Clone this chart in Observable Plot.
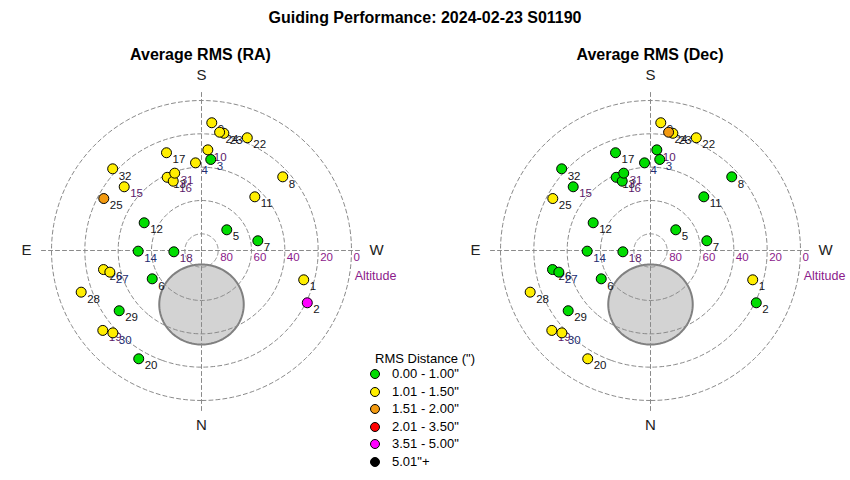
<!DOCTYPE html>
<html><head><meta charset="utf-8">
<script src="https://cdn.jsdelivr.net/npm/d3@7"></script>
<script src="https://cdn.jsdelivr.net/npm/@observablehq/plot@0.6"></script>
<style>
body{margin:0;background:#fff;font-family:"Liberation Sans",Arial,sans-serif;}
#page{position:relative;width:850px;height:480px;overflow:hidden;background:#fff;}
.abs{position:absolute;}
.txt{z-index:3;color:#000;white-space:nowrap;}
.title{font-weight:bold;font-size:16px;line-height:20px;text-align:center;}
.leg{font-size:13px;line-height:16px;}
.sw{position:absolute;width:8px;height:8px;border-radius:50%;border:1px solid #000;}
</style></head><body>
<div id="page">
  <div class="abs txt title" style="left:0;top:8px;width:850px;">Guiding Performance: 2024-02-23 S01190</div>
  <div class="abs txt title" style="left:0;top:45px;width:401px;">Average RMS (RA)</div>
  <div class="abs txt title" style="left:450px;top:45px;width:400px;">Average RMS (Dec)</div>
  <div id="p1" class="abs" style="left:1px;top:50px;"></div>
  <div id="p2" class="abs" style="left:450px;top:50px;"></div>
  <div id="legend" class="abs txt leg" style="left:360px;top:350px;width:130px;height:125px;"></div>
</div>
<script>
// ---- data ----
const ids      = [1, 2, 3, 4, 5, 6, 7, 8, 9, 10, 11, 12, 13, 14, 15, 16, 17, 18, 19, 20, 22, 23, 24, 25, 26, 27, 28, 29, 30, 31, 32];
const azimuth  = [286.0, 296.3, 185.8, 176.1, 230.7, 60.1, 260.2, 227.8, 184.6, 183.6, 224.8, 115.8, 154.9, 89.4, 129.5, 157.8, 160.3, 87.3, 51.0, 30.1, 202.1, 190.8, 188.7, 118.0, 79.0, 76.7, 70.9, 53.8, 47.1, 160.9, 132.6];
const altitude = [26.2, 19.2, 35.1, 37.3, 70.4, 55.9, 55.7, 24.2, 13.1, 29.5, 44.6, 51.8, 41.5, 52.0, 29.9, 45.1, 27.7, 73.4, 13.8, 14.9, 17.0, 18.4, 18.2, 23.6, 30.1, 33.5, 13.6, 28.8, 17.4, 40.9, 17.6];
// RMS distance class (index into binLabels)
const binRA    = [1, 4, 0, 1, 0, 0, 0, 1, 1, 1, 1, 0, 1, 0, 1, 1, 1, 0, 1, 0, 1, 1, 1, 2, 1, 1, 1, 0, 1, 1, 1];
const binDec   = [1, 0, 0, 0, 0, 0, 0, 0, 1, 0, 0, 0, 0, 0, 0, 0, 0, 0, 1, 1, 1, 1, 2, 1, 0, 0, 1, 0, 1, 0, 0];
const binLabels = ['0.00 - 1.00"', '1.01 - 1.50"', '1.51 - 2.00"', '2.01 - 3.50"', '3.51 - 5.00"', '5.01"+'];
const altRings  = [0, 20, 40, 60, 80];
const compass   = [{t: "S", az: 180}, {t: "N", az: 0}, {t: "E", az: 90}, {t: "W", az: 270}];
const excluded  = {az: 0, alt: 57.6, radius: 24};

// ---- styles ----
const binColors = ["#00dd00", "#ffee00", "#f39a10", "#ff0000", "#ff00ff", "#000000"];
const inkPurple = [10, 15, 16, 18, 19, 31];
const inkBlue   = [3, 4, 14, 27, 30];
const purple = "#8b1a8b";

function panel(bins) {
  const data = ids.map((id, i) => ({id, az: azimuth[i], alt: altitude[i], bin: binLabels[bins[i]]}));
  const lon = d => -d.az;
  const ink = d => inkPurple.includes(d.id) ? "#5a1a6a" : inkBlue.includes(d.id) ? "#222c70" : "#141420";
  const groups = d3.groups(data, ink);
  const dash = {stroke: "#8a8a8a", strokeDasharray: "4,3", strokeWidth: 1, fill: "none"};
  return Plot.plot({
    width: 400, height: 400, margin: 0,
    style: {background: "none", overflow: "visible", fontFamily: "Liberation Sans, Arial, sans-serif"},
    projection: {type: "azimuthal-equidistant", rotate: [0, -90], domain: d3.geoCircle().center([0, 90]).radius(120)()},
    color: {domain: binLabels, range: binColors},
    marks: [
      Plot.geo([d3.geoCircle().center([-excluded.az, excluded.alt]).radius(excluded.radius)()], {fill: "#d3d3d3", stroke: "#808080", strokeWidth: 2}),
      Plot.geo(altRings.map(a => d3.geoCircle().center([0, 90]).radius(90 - a)()), dash),
      Plot.geo([{type: "MultiLineString", coordinates: [
        [[-90, -6], [-90, 90]], [[90, 90], [90, -6]], [[0, -6], [0, 90]], [[180, 90], [180, -6]]]}], dash),
      Plot.text(altRings, {x: () => -270, y: a => a, text: a => String(a), dx: 2, dy: 7, textAnchor: "start", fill: purple, fontSize: 11.5}),
      Plot.text(["Altitude"], {x: () => -270, y: () => -14.4, text: d => d, dy: 25, fill: purple, fontSize: 12.5}),
      Plot.text(compass, {x: d => -d.az, y: () => -15, text: "t", fill: "#222", fontSize: 15}),
      ...groups.map(([color, g]) => Plot.text(g, {x: lon, y: "alt", text: d => String(d.id), dx: 6, dy: 7, textAnchor: "start", fill: color, fontSize: 11.5})),
      Plot.dot(data, {x: lon, y: "alt", r: 5, fill: "bin", stroke: "#000", strokeWidth: 1})
    ]
  });
}

document.getElementById("p1").append(panel(binRA));
document.getElementById("p2").append(panel(binDec));

// legend
const leg = document.getElementById("legend");
const t = document.createElement("div");
t.className = "abs"; t.style.left = "0px"; t.style.top = "1px"; t.style.width = "130px"; t.style.textAlign = "center";
t.textContent = 'RMS Distance (")';
leg.append(t);
binLabels.forEach((lab, i) => {
  const y = 24 + i * 17.6;
  const s = document.createElement("div");
  s.className = "sw"; s.style.left = "10px"; s.style.top = (y - 5) + "px"; s.style.background = binColors[i];
  const l = document.createElement("div");
  l.className = "abs"; l.style.left = "32px"; l.style.top = (y - 8) + "px";
  l.textContent = lab;
  leg.append(s, l);
});
</script>
</body></html>
